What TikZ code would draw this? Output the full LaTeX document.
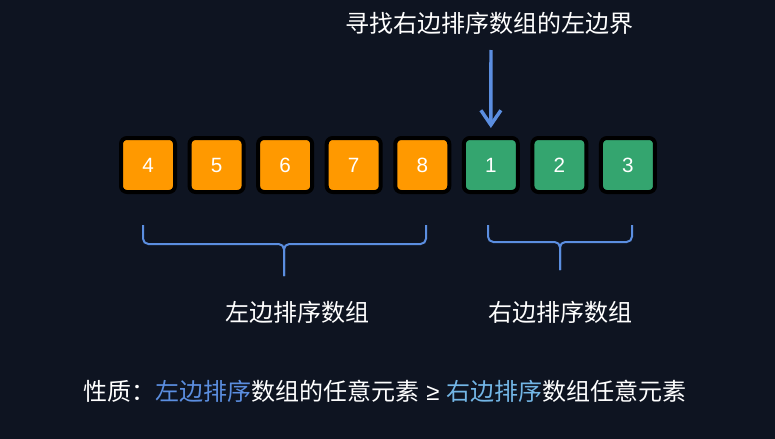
\documentclass[tikz,border=0pt]{standalone}
\usepackage{fontspec}
\usetikzlibrary{arrows.meta}
\newfontfamily\cjk{Noto Sans CJK SC}
\newfontfamily\digitfont{Liberation Sans}
\definecolor{bgnavy}{HTML}{0E1421}
\definecolor{cellorange}{HTML}{FF9900}
\definecolor{cellgreen}{HTML}{34A56F}
\definecolor{markblue}{HTML}{5B8EE0}
\definecolor{hlsky}{HTML}{73B6E6}

\begin{document}
\begin{tikzpicture}[x=0.75pt,y=-0.75pt,
    cell/.style={draw=black,line width=3pt,rounded corners=4.5pt,
      minimum size=40.5pt,inner sep=0pt,text=white,
      font=\digitfont\fontsize{15.5}{18}\selectfont},
    lbl/.style={text=white,inner sep=0pt,
      font=\cjk\fontsize{18}{21}\selectfont},
    pointer/.style={markblue,line width=2.6pt,
      -{Straight Barb[length=11pt,width=15pt]},shorten >=6pt},
    brace/.style={markblue,line width=1.5pt,rounded corners=4pt}]
  % Background, fixes the size of the page.
  \fill[bgnavy] (0,0) rectangle (775,439);

  % The eight cells: left sorted part, then right sorted part.
  \foreach \i/\v/\c in {1/4/cellorange,2/5/cellorange,3/6/cellorange,
      4/7/cellorange,5/8/cellorange,6/1/cellgreen,7/2/cellgreen,8/3/cellgreen}{
    \node[cell,fill=\c] (n\i) at ({148+68.57*(\i-1)},165) {\v};
  }

  % Title and the arrow onto the first cell of the right part.
  \node[lbl] (title) at (489,23) {寻找右边排序数组的左边界};
  \coordinate (arrtop) at (491,50);
  \draw[pointer] (arrtop) -- (n6.north);

  % Braces under the two parts.
  \draw[brace] (143,225) -- (143,244) -- (284,244) -- (284,276);
  \draw[brace] (426,225) -- (426,244) -- (284,244) -- (284,276);
  \draw[brace] (488,225) -- (488,242) -- (560,242) -- (560,270);
  \draw[brace] (632,225) -- (632,242) -- (560,242) -- (560,270);
  \node[lbl] (leftlbl) at (297,312) {左边排序数组};
  \node[lbl] (rightlbl) at (560,312) {右边排序数组};

  % Property line.
  \node[lbl] (prop) at (385,391) {性质：\textcolor{markblue}{左边排序}数组的任意元素%
    {\digitfont\ ≥\ }\textcolor{hlsky}{右边排序}数组任意元素};
\end{tikzpicture}
\end{document}
